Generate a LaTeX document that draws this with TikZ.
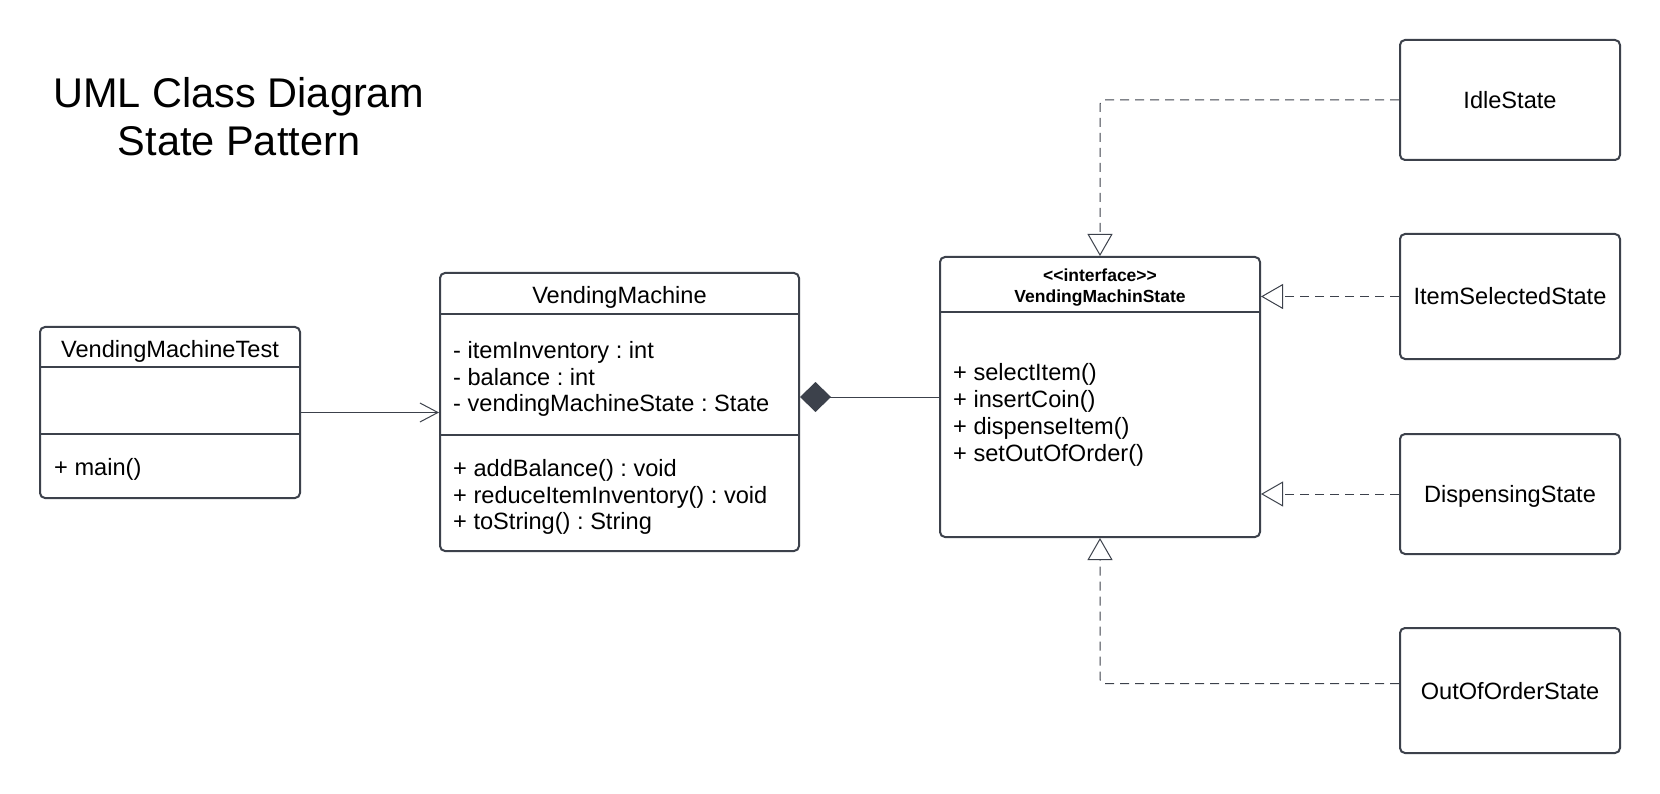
\documentclass[tikz,border=0pt]{standalone}
\usepackage{fontspec}
\setmainfont{Liberation Sans}
\usetikzlibrary{arrows.meta,positioning}
\definecolor{umlgray}{HTML}{3C414B}
\frenchspacing

\tikzset{
  classbox/.style={draw=umlgray,line width=2pt,rounded corners=5pt,fill=white,inner sep=0pt},
  divider/.style={draw=umlgray,line width=2pt},
  classname/.style={inner sep=0pt,text height=17pt,text depth=0pt,font=\fontsize{23.6}{27}\selectfont},
  members/.style={anchor=west,inner sep=0pt,align=left,font=\fontsize{23.6}{26.8}\selectfont},
  stereo/.style={inner sep=0pt,align=center,font=\bfseries\fontsize{17.5}{21}\selectfont},
  assoc/.style={draw=umlgray,line width=1pt,-{Straight Barb[length=18pt,width=19pt]}},
  compose/.style={draw=umlgray,line width=1pt,-{Diamond[length=31pt,width=30pt,fill=umlgray]}},
  realize/.style={draw=umlgray,line width=1pt,dash pattern=on 9pt off 6pt,
    -{Triangle[length=22pt,width=25pt,fill=white]}},
}

\begin{document}
\begin{tikzpicture}[x=1pt,y=-1pt]

	% page
	\path[fill=white] (0,0) rectangle (1660,794);
	\useasboundingbox (0,0) rectangle (1660,794);

	% title
	\node[align=center,inner sep=0pt,font=\fontsize{41.5}{48}\selectfont] (title) at (239,117) {UML Class Diagram\\State Pattern};

	% VendingMachineTest
	\node[classbox,minimum width=260pt,minimum height=171pt] (vmt) at (170,412.5) {};
	\draw[divider] ([yshift=-41pt]vmt.north west) -- ([yshift=-41pt]vmt.north east);
	\draw[divider] ([yshift=65pt]vmt.south west) -- ([yshift=65pt]vmt.south east);
	\node[classname] (vmtname) at (170,349) {VendingMachineTest};
	\node[members] (vmtops) at (54,469) {+ main()};

	% VendingMachine
	\node[classbox,minimum width=359pt,minimum height=278pt] (vm) at (619.5,412) {};
	\draw[divider] ([yshift=-42pt]vm.north west) -- ([yshift=-42pt]vm.north east);
	\draw[divider] ([yshift=117pt]vm.south west) -- ([yshift=117pt]vm.south east);
	\node[classname] (vmname) at (619.5,295) {VendingMachine};
	\node[members] (vmattr) at (453,379) {- itemInventory : int\\- balance : int\\- vendingMachineState : State};
	\node[members] (vmops) at (453,497) {+ addBalance() : void\\+ reduceItemInventory() : void\\+ toString() : String};

	% interface
	\node[classbox,minimum width=320pt,minimum height=280pt] (iface) at (1100,397) {};
	\draw[divider] ([yshift=-56pt]iface.north west) -- ([yshift=-56pt]iface.north east);
	\node[stereo] (ifacename) at (1100,288) {{<}{<}interface{>}{>}\\VendingMachinState};
	\node[members] (ifaceops) at (953,415) {+ selectItem()\\+ insertCoin()\\+ dispenseItem()\\+ setOutOfOrder()};

	% states
	\node[classbox,classname,minimum width=220pt,minimum height=120pt] (idle) at (1510,100) {IdleState};
	\node[classbox,classname,minimum width=220pt,minimum height=125pt] (isel) at (1510,296.5) {ItemSelectedState};
	\node[classbox,classname,minimum width=220pt,minimum height=120pt] (disp) at (1510,494) {DispensingState};
	\node[classbox,classname,minimum width=220pt,minimum height=125pt] (oos) at (1510,690.5) {OutOfOrderState};

	% relations
	\draw[assoc] (vmt.east) -- (vmt.east -| vm.west);
	\draw[compose] (iface.west) -- (iface.west -| vm.east);
	\draw[realize,rounded corners=4pt] (idle.west) -| (iface.north);
	\draw[realize] (isel.west) -- (isel.west -| iface.east);
	\draw[realize] (disp.west) -- (disp.west -| iface.east);
	\draw[realize,rounded corners=4pt] ([yshift=7pt]oos.west) -| (iface.south);

\end{tikzpicture}
\end{document}
